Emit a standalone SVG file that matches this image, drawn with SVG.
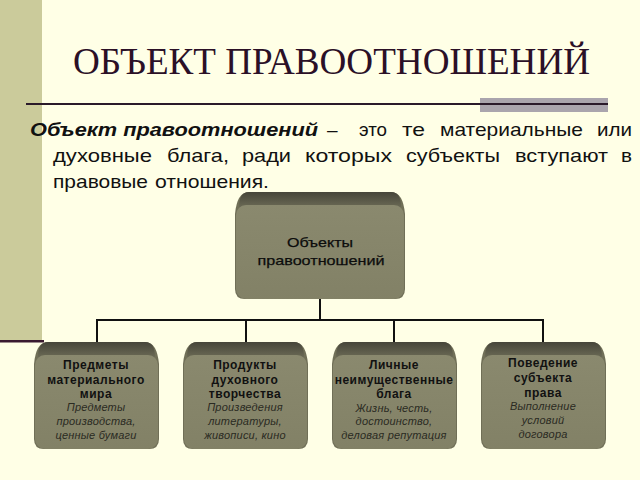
<svg xmlns="http://www.w3.org/2000/svg" width="640" height="480" viewBox="0 0 640 480">
<defs>
<linearGradient id="topband" x1="0" y1="0" x2="0" y2="1">
<stop offset="0" stop-color="#46453a"/>
<stop offset="1" stop-color="#6a6954"/>
</linearGradient>
<linearGradient id="front" x1="0" y1="0" x2="0" y2="1">
<stop offset="0" stop-color="#8a896e"/>
<stop offset="1" stop-color="#828166"/>
</linearGradient>
<style>
.side{fill:#706f57}
.band{fill:url(#topband)}
.face{fill:url(#front)}
.conn{stroke:#111;stroke-width:2;fill:none}
.body{font-family:"Liberation Sans",Arial,sans-serif;font-size:19px;fill:#111}
.bi{font-weight:bold;font-style:italic}
.tt{font-family:"Liberation Sans",Arial,sans-serif;font-size:13.5px;fill:#0c0c0c;stroke:#0c0c0c;stroke-width:0.25px;text-anchor:middle}
.nt{font-family:"Liberation Sans",Arial,sans-serif;font-size:12px;font-weight:bold;fill:#111;letter-spacing:0.5px;text-anchor:middle}
.ni{font-family:"Liberation Sans",Arial,sans-serif;font-size:11px;font-style:italic;fill:#2a2a22;letter-spacing:0.2px;text-anchor:middle}
</style>
</defs>
<rect width="640" height="480" fill="#ffffe6"/>
<rect x="0" y="0" width="42" height="341" fill="#cbcb9b"/>
<rect x="0" y="340" width="44" height="2.5" fill="#3a1a30"/>
<text x="73" y="74" font-family="'Liberation Serif','Times New Roman',serif" font-size="38" fill="#2b1027" textLength="517" lengthAdjust="spacingAndGlyphs">ОБЪЕКТ ПРАВООТНОШЕНИЙ</text>
<rect x="480" y="98" width="128" height="14" fill="#aaa5ad"/>
<rect x="26" y="103" width="582" height="2" fill="#2a1a2a"/>
<text class="body" y="136"><tspan x="30" class="bi" textLength="288" lengthAdjust="spacingAndGlyphs">Объект правоотношений</tspan><tspan x="327">–</tspan><tspan x="359" textLength="28" lengthAdjust="spacingAndGlyphs">это</tspan><tspan x="402" textLength="23" lengthAdjust="spacingAndGlyphs">те</tspan><tspan x="440" textLength="143" lengthAdjust="spacingAndGlyphs">материальные</tspan><tspan x="597" textLength="35" lengthAdjust="spacingAndGlyphs">или</tspan></text>
<text class="body" y="162"><tspan x="53" textLength="99" lengthAdjust="spacingAndGlyphs">духовные</tspan><tspan x="167" textLength="62" lengthAdjust="spacingAndGlyphs">блага,</tspan><tspan x="242" textLength="49" lengthAdjust="spacingAndGlyphs">ради</tspan><tspan x="305" textLength="87" lengthAdjust="spacingAndGlyphs">которых</tspan><tspan x="406" textLength="94" lengthAdjust="spacingAndGlyphs">субъекты</tspan><tspan x="515" textLength="93" lengthAdjust="spacingAndGlyphs">вступают</tspan><tspan x="621" textLength="11" lengthAdjust="spacingAndGlyphs">в</tspan></text>
<text class="body" y="188"><tspan x="53" textLength="95" lengthAdjust="spacingAndGlyphs">правовые</tspan><tspan x="155" textLength="114" lengthAdjust="spacingAndGlyphs">отношения.</tspan></text>
<g id="connectors">
<path class="conn" d="M320 299 V320 M97 320 H544 M97 319 V342 M246 319 V342 M394 319 V342 M543 319 V342"/>
</g>
<g id="node-root">
<path class="side" d="M249 192 H391 Q403 192 405 214 V289 Q405 299 395 299 H245 Q235 299 235 289 V214 Q237 192 249 192 Z"/>
<path class="band" d="M249 192 H391 Q401 192 401 207 H239 Q239 192 249 192 Z"/>
<rect class="face" x="236" y="205" width="168" height="94" rx="10"/>
<text class="tt" x="320" y="247" textLength="66" lengthAdjust="spacingAndGlyphs">Объекты</text>
<text class="tt" x="321" y="265" textLength="127" lengthAdjust="spacingAndGlyphs">правоотношений</text>
</g>
<g id="node-material">
<path class="side" d="M48 342 H145 Q157 342 159 364 V439 Q159 449 149 449 H44 Q34 449 34 439 V364 Q36 342 48 342 Z"/>
<path class="band" d="M48 342 H145 Q155 342 155 357 H38 Q38 342 48 342 Z"/>
<rect class="face" x="35" y="355" width="123" height="94" rx="10"/>
<text class="nt" x="96" y="369">Предметы</text>
<text class="nt" x="96" y="384">материального</text>
<text class="nt" x="96" y="398">мира</text>
<text class="ni" x="96" y="411">Предметы</text>
<text class="ni" x="96" y="425">производства,</text>
<text class="ni" x="96" y="439">ценные бумаги</text>
</g>
<g id="node-spiritual">
<path class="side" d="M197 342 H294 Q306 342 308 364 V439 Q308 449 298 449 H193 Q183 449 183 439 V364 Q185 342 197 342 Z"/>
<path class="band" d="M197 342 H294 Q304 342 304 357 H187 Q187 342 197 342 Z"/>
<rect class="face" x="184" y="355" width="123" height="94" rx="10"/>
<text class="nt" x="245" y="369">Продукты</text>
<text class="nt" x="245" y="384">духовного</text>
<text class="nt" x="245" y="398">творчества</text>
<text class="ni" x="245" y="411">Произведения</text>
<text class="ni" x="245" y="425">литературы,</text>
<text class="ni" x="245" y="439">живописи, кино</text>
</g>
<g id="node-personal">
<path class="side" d="M346 342 H443 Q455 342 457 364 V439 Q457 449 447 449 H342 Q332 449 332 439 V364 Q334 342 346 342 Z"/>
<path class="band" d="M346 342 H443 Q453 342 453 357 H336 Q336 342 346 342 Z"/>
<rect class="face" x="333" y="355" width="123" height="94" rx="10"/>
<text class="nt" x="394" y="369">Личные</text>
<text class="nt" x="394" y="384">неимущественные</text>
<text class="nt" x="394" y="398">блага</text>
<text class="ni" x="394" y="412">Жизнь, честь,</text>
<text class="ni" x="394" y="425">достоинство,</text>
<text class="ni" x="394" y="439">деловая репутация</text>
</g>
<g id="node-behavior">
<path class="side" d="M495 342 H592 Q604 342 606 364 V439 Q606 449 596 449 H491 Q481 449 481 439 V364 Q483 342 495 342 Z"/>
<path class="band" d="M495 342 H592 Q602 342 602 357 H485 Q485 342 495 342 Z"/>
<rect class="face" x="482" y="355" width="123" height="94" rx="10"/>
<text class="nt" x="543" y="367">Поведение</text>
<text class="nt" x="543" y="382">субъекта</text>
<text class="nt" x="543" y="397">права</text>
<text class="ni" x="543" y="410">Выполнение</text>
<text class="ni" x="543" y="424">условий</text>
<text class="ni" x="543" y="438">договора</text>
</g>
</svg>
